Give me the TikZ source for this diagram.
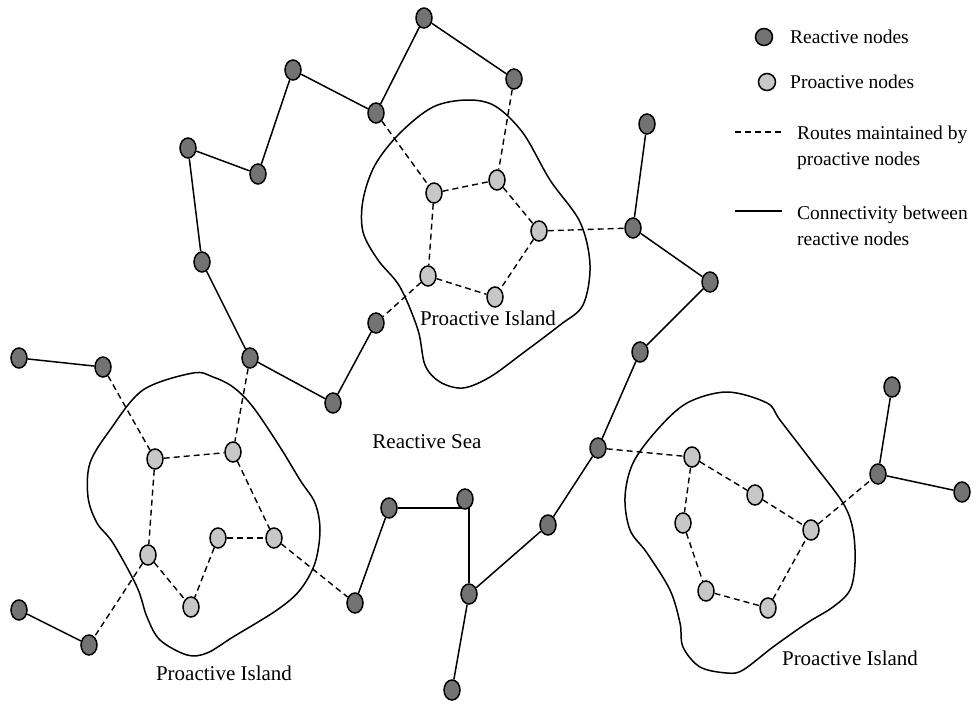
\documentclass[tikz,border=0pt]{standalone}
\usepackage{fontspec}
\setmainfont{Liberation Serif}
\usetikzlibrary{shapes.geometric}
\pgfdeclarelayer{under}
\pgfsetlayers{under,main}

\tikzset{
  rnode/.style={ellipse, draw=black, line width=1.5pt, fill=black!55,
                minimum width=16pt, minimum height=20pt, inner sep=0pt},
  pnode/.style={ellipse, draw=black, line width=1.5pt, fill=black!22,
                minimum width=16pt, minimum height=20pt, inner sep=0pt},
  link/.style={line width=1.5pt},
  route/.style={line width=1.4pt, dash pattern=on 6pt off 4pt},
  island/.style={line width=1.5pt, smooth cycle, tension=0.55},
  lbl/.style={font=\fontsize{21}{26}\selectfont, inner sep=0pt},
  keytext/.style={font=\fontsize{19.5}{26}\selectfont, inner sep=0pt, align=left, anchor=west}
}

\begin{document}
\begin{tikzpicture}[x=1pt, y=-1pt]
\useasboundingbox (0,0) rectangle (976,704);

% reactive nodes
\node[rnode] (r1) at (424,18) {};
\node[rnode] (r2) at (293,70) {};
\node[rnode] (r3) at (514,79) {};
\node[rnode] (r4) at (376,113) {};
\node[rnode] (r5) at (188,148) {};
\node[rnode] (r6) at (258,174) {};
\node[rnode] (r7) at (647,124) {};
\node[rnode] (r8) at (633,228) {};
\node[rnode] (r9) at (202,262) {};
\node[rnode] (r10) at (710,282) {};
\node[rnode] (r11) at (376,323) {};
\node[rnode] (r12) at (250,358) {};
\node[rnode] (r13) at (19,358) {};
\node[rnode] (r14) at (103,367) {};
\node[rnode] (r15) at (333,403) {};
\node[rnode] (r16) at (640,352) {};
\node[rnode] (r17) at (598,448) {};
\node[rnode] (r18) at (892,387) {};
\node[rnode] (r19) at (878,474) {};
\node[rnode] (r20) at (962,492) {};
\node[rnode] (r21) at (389,508) {};
\node[rnode] (r22) at (465,499) {};
\node[rnode] (r23) at (548,525) {};
\node[rnode] (r24) at (355,603) {};
\node[rnode] (r25) at (469,594) {};
\node[rnode] (r26) at (19,610) {};
\node[rnode] (r27) at (89,645) {};
\node[rnode] (r28) at (452,690) {};

% proactive nodes
\node[pnode] (p1) at (434,193) {};
\node[pnode] (p2) at (497,180) {};
\node[pnode] (p3) at (539,231) {};
\node[pnode] (p4) at (428,276) {};
\node[pnode] (p5) at (495,297) {};
\node[pnode] (p6) at (155,459) {};
\node[pnode] (p7) at (233,452) {};
\node[pnode] (p8) at (148,555) {};
\node[pnode] (p9) at (218,538) {};
\node[pnode] (p10) at (274,538) {};
\node[pnode] (p11) at (191,607) {};
\node[pnode] (p12) at (692,457) {};
\node[pnode] (p13) at (755,495) {};
\node[pnode] (p14) at (683,523) {};
\node[pnode] (p15) at (811,530) {};
\node[pnode] (p16) at (706,591) {};
\node[pnode] (p17) at (768,608) {};

\begin{pgfonlayer}{under}
% island boundaries
\draw[island] plot coordinates {(363,200) (375,165) (400,133) (433,107) (467,100) (495,106)
  (523,133) (550,180) (580,222) (590,265) (583,305) (560,325) (523,353) (490,377)
  (463,388) (440,382) (425,365) (418,330) (400,287) (378,260) (363,232)};
\draw[island] plot coordinates {(193,373) (143,390) (110,430) (90,463) (88,497) (97,523)
  (113,543) (137,587) (147,617) (160,640) (187,655) (207,653) (233,637) (277,610)
  (300,590) (315,563) (320,530) (315,503) (300,480) (280,447) (253,407) (233,387) (213,377)};
\draw[island] plot coordinates {(727,392) (767,403) (780,420) (813,463) (843,503) (853,530)
  (855,563) (850,590) (833,607) (807,623) (773,647) (743,670) (727,673) (700,667)
  (683,647) (680,623) (670,590) (647,553) (630,530) (625,497) (633,463) (657,430) (687,403)};

% connectivity between reactive nodes
\draw[link] (r1) -- (r4);
\draw[link] (r1) -- (r3);
\draw[link] (r2) -- (r4);
\draw[link] (r2) -- (r6);
\draw[link] (r5) -- (r6);
\draw[link] (r5) -- (r9);
\draw[link] (r9) -- (r12);
\draw[link] (r12) -- (r15);
\draw[link] (r15) -- (r11);
\draw[link] (r7) -- (r8);
\draw[link] (r8) -- (r10);
\draw[link] (r10) -- (r16);
\draw[link] (r16) -- (r17);
\draw[link] (r17) -- (r23);
\draw[link] (r23) -- (r25);
\draw[link] (r21) -| (r25);
\draw[link] (r21) -- (r24);
\draw[link] (r25) -- (r28);
\draw[link] (r13) -- (r14);
\draw[link] (r26) -- (r27);
\draw[link] (r18) -- (r19);
\draw[link] (r19) -- (r20);

% routes maintained by proactive nodes
\draw[route] (r3) -- (p2);
\draw[route] (r4) -- (p1);
\draw[route] (p1) -- (p2);
\draw[route] (p1) -- (p4);
\draw[route] (p2) -- (p3);
\draw[route] (p3) -- (p5);
\draw[route] (p4) -- (p5);
\draw[route] (p4) -- (r11);
\draw[route] (p3) -- (r8);

\draw[route] (r14) -- (p6);
\draw[route] (p6) -- (p7);
\draw[route] (p6) -- (p8);
\draw[route] (r12) -- (p7);
\draw[route] (p7) -- (p10);
\draw[route] (p9) -- (p10);
\draw[route] (p9) -- (p11);
\draw[route] (p8) -- (p11);
\draw[route] (p8) -- (r27);
\draw[route] (p10) -- (r24);

\draw[route] (r17) -- (p12);
\draw[route] (p12) -- (p13);
\draw[route] (p12) -- (p14);
\draw[route] (p13) -- (p15);
\draw[route] (p14) -- (p16);
\draw[route] (p16) -- (p17);
\draw[route] (p17) -- (p15);
\draw[route] (p15) -- (r19);
\end{pgfonlayer}

% labels
\node[lbl] (t1) at (488,318) {Proactive Island};
\node[lbl] (t2) at (224,673) {Proactive Island};
\node[lbl] (t3) at (850,658) {Proactive Island};
\node[lbl] (t4) at (427,442) {Reactive Sea};

% legend
\node[rnode, minimum width=17pt, minimum height=17pt] (kr) at (764,37) {};
\node[pnode, minimum width=17pt, minimum height=17pt] (kp) at (767,82) {};
\node[keytext] (kr-t) at (790,37) {Reactive nodes};
\node[keytext] (kp-t) at (790,82) {Proactive nodes};
\coordinate (kd1) at (735,132);
\coordinate (kd2) at (783,132);
\draw[route] (kd1) -- (kd2);
\node[keytext] (kd-t) at (797,148) {Routes maintained by\\proactive nodes};
\coordinate (ks1) at (735,211);
\coordinate (ks2) at (782,211);
\draw[link] (ks1) -- (ks2);
\node[keytext] (ks-t) at (797,226) {Connectivity between\\reactive nodes};
\end{tikzpicture}
\end{document}
